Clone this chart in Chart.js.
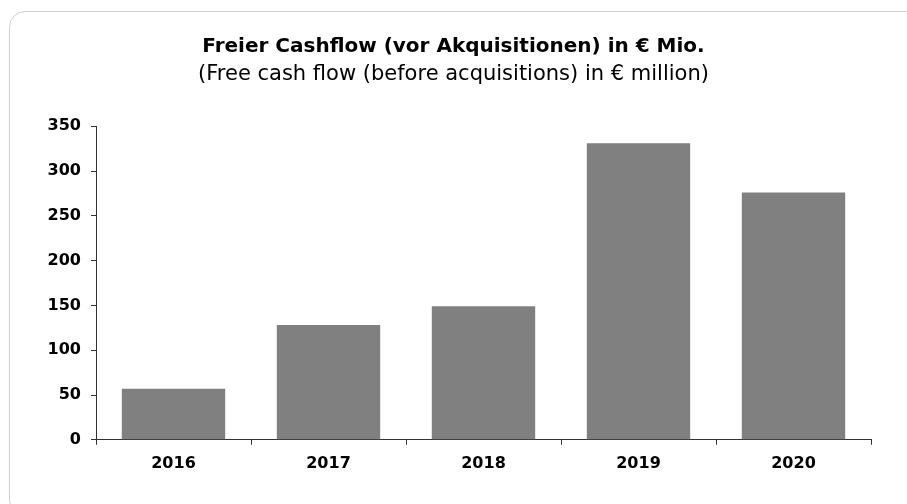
<!DOCTYPE html>
<html>
<head>
<meta charset="utf-8">
<script src="https://cdn.jsdelivr.net/npm/chart.js@4"></script>
<style>
  html, body { margin: 0; padding: 0; background: #fff; }
  #card {
    position: absolute; left: 9px; top: 11px; width: 920px; height: 505px;
    border: 1px solid #cfcfcf; border-radius: 16px; box-sizing: border-box;
  }
  #wrap { position: absolute; left: 0; top: 0; width: 907px; height: 504px; }
</style>
</head>
<body>
<div id="card"></div>
<div id="wrap"><canvas id="chart"></canvas></div>
<script>
const years = ["2016", "2017", "2018", "2019", "2020"];
const cashflow = [57, 128, 149, 331, 276];
const yTicks = [0, 50, 100, 150, 200, 250, 300, 350];

const fontFamily = "'DejaVu Sans', Verdana, sans-serif";

const ctx = document.getElementById("chart").getContext("2d");

new Chart(ctx, {
    type: "bar",
    data: {
        labels: years,
        datasets: [{
            label: "Freier Cashflow",
            data: cashflow,
            backgroundColor: "#808080",
            borderWidth: 0,
            barPercentage: 0.667,
            categoryPercentage: 1
        }]
    },
    options: {
        responsive: true,
        maintainAspectRatio: false,
        animation: false,
        layout: { padding: { left: 36, right: 36, bottom: 22 } },
        plugins: {
            legend: { display: false },
            tooltip: { enabled: false },
            title: {
                display: true,
                text: "Freier Cashflow (vor Akquisitionen) in € Mio.",
                color: "#000",
                font: { family: fontFamily, size: 20, weight: "bold", lineHeight: 1.2 },
                padding: { top: 35, bottom: 3 }
            },
            subtitle: {
                display: true,
                text: "(Free cash flow (before acquisitions) in € million)",
                color: "#000",
                font: { family: fontFamily, size: 21, lineHeight: 1.2 },
                padding: { top: 0, bottom: 39 }
            }
        },
        scales: {
            x: {
                grid: { display: true, drawOnChartArea: false, drawTicks: true, tickLength: 5, color: "#333", offset: true },
                border: { display: true, color: "#333", width: 1 },
                ticks: {
                    color: "#000",
                    padding: 9,
                    font: { family: fontFamily, size: 16, weight: "bold" }
                }
            },
            y: {
                min: 0,
                max: 350,
                afterBuildTicks: (scale) => {
                    scale.ticks = yTicks.map(v => ({ value: v }));
                },
                afterFit: (scale) => { scale.width = 60; },
                grid: { display: true, drawOnChartArea: false, drawTicks: true, tickLength: 5, color: "#333" },
                border: { display: true, color: "#333", width: 1 },
                ticks: {
                    color: "#000",
                    padding: 10,
                    font: { family: fontFamily, size: 16, weight: "bold" }
                }
            }
        }
    }
});
</script>
</body>
</html>
